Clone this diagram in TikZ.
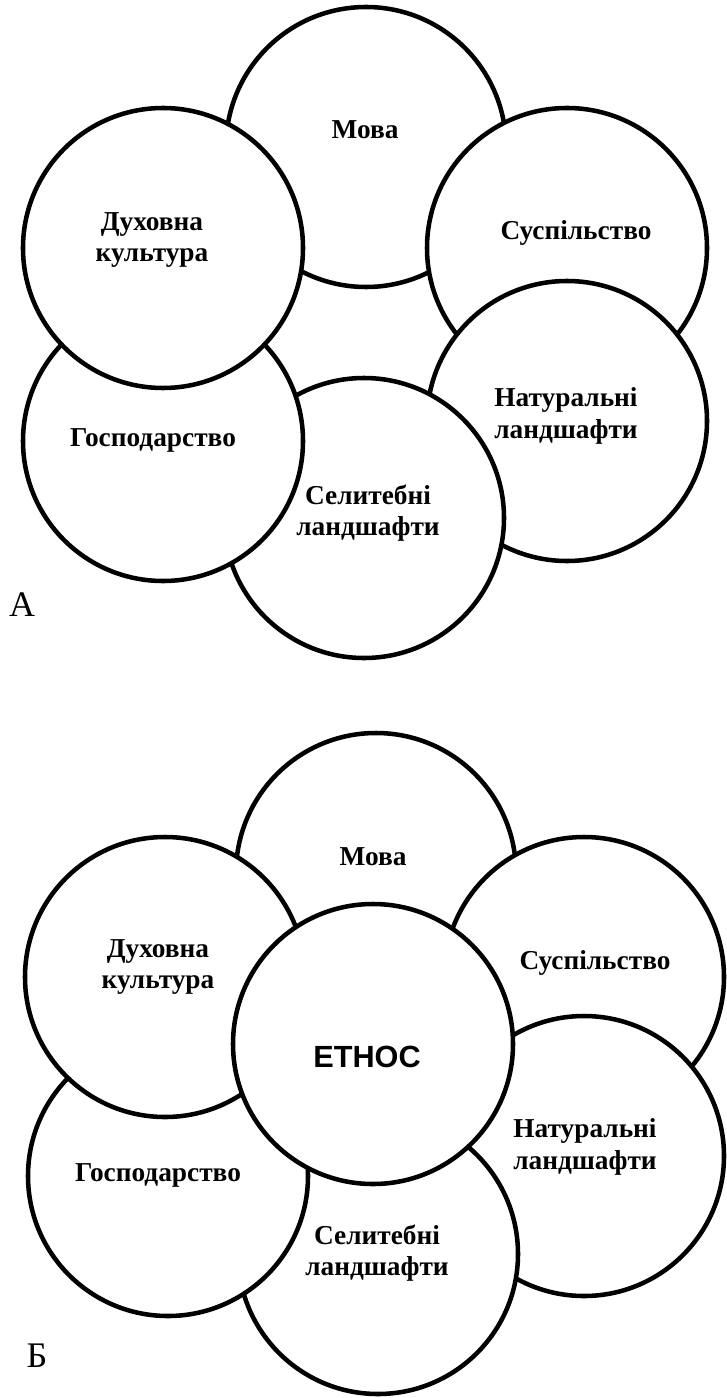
\documentclass[tikz,border=0pt]{standalone}
\usepackage{fontspec}
\setmainfont{Liberation Serif}
\newfontfamily\ethosfont{Liberation Sans}
\tikzset{
    petal/.style={circle,draw,fill=white,line width=3.4pt,minimum size=210pt,inner sep=0pt},
    petaltext/.style={align=center,inner sep=0pt,font=\fontsize{20.5}{23.5}\selectfont\bfseries},
    coretext/.style={inner sep=0pt,font=\fontsize{23}{26}\selectfont\ethosfont\bfseries},
    panel/.style={inner sep=0pt,font=\fontsize{27}{30}\selectfont}
}

\begin{document}
\begin{tikzpicture}[x=0.75pt,y=-0.75pt]

    \useasboundingbox (0,0) rectangle (727,1398);

    % panel A
    \def\xLeftA{163}
    \def\xMidA{366}
    \def\xRightA{567}
    \def\yTopA{147}
    \def\yUpperA{248}
    \def\yBottomA{518}

    \node[petal] at (\xMidA,\yTopA) (movaA) {};
    \node[petaltext] at (365,130) (movaAtext) {Мова};
    \node[petal] at (\xRightA,\yUpperA) (suspA) {};
    \node[petaltext] at (576,233) (suspAtext) {Суспільство};
    \node[petal] at (\xRightA,421) (naturA) {};
    \node[petaltext] at (566,416) (naturAtext) {Натуральні\\ландшафти};
    \node[petal] at (364,\yBottomA) (selytA) {};
    \node[petaltext] at (368,513) (selytAtext) {Селитебні\\ландшафти};
    \node[petal] at (\xLeftA,441) (hospA) {};
    \node[petaltext] at (153,440) (hospAtext) {Господарство};
    \node[petal] at (\xLeftA,\yUpperA) (dukhA) {};
    \node[petaltext] at (152,240) (dukhAtext) {Духовна\\культура};

    \node[panel] at (22,605) (labelA) {А};

    % panel B
    \def\xLeftB{165}
    \def\xMidB{376}
    \def\xRightB{584}
    \def\yTopB{873}
    \def\yUpperB{977}
    \def\yLowerB{1156}
    \def\yBottomB{1254}

    \node[petal] at (\xMidB,\yTopB) (movaB) {};
    \node[petaltext] at (373,857) (movaBtext) {Мова};
    \node[petal] at (\xRightB,\yUpperB) (suspB) {};
    \node[petaltext] at (595,963) (suspBtext) {Суспільство};
    \node[petal] at (\xRightB,\yLowerB) (naturB) {};
    \node[petaltext] at (585,1147) (naturBtext) {Натуральні\\ландшафти};
    \node[petal] at (378,\yBottomB) (selytB) {};
    \node[petaltext] at (377,1253) (selytBtext) {Селитебні\\ландшафти};
    \node[petal] at (168,1176) (hospB) {};
    \node[petaltext] at (158,1175) (hospBtext) {Господарство};
    \node[petal] at (\xLeftB,\yUpperB) (dukhB) {};
    \node[petaltext] at (158,967) (dukhBtext) {Духовна\\культура};
    \node[petal] at (373,1044) (ethos) {};
    \node[coretext] at (367,1057) (ethostext) {ЕТНОС};

    \node[panel] at (37,1356) (labelB) {Б};

\end{tikzpicture}
\end{document}
